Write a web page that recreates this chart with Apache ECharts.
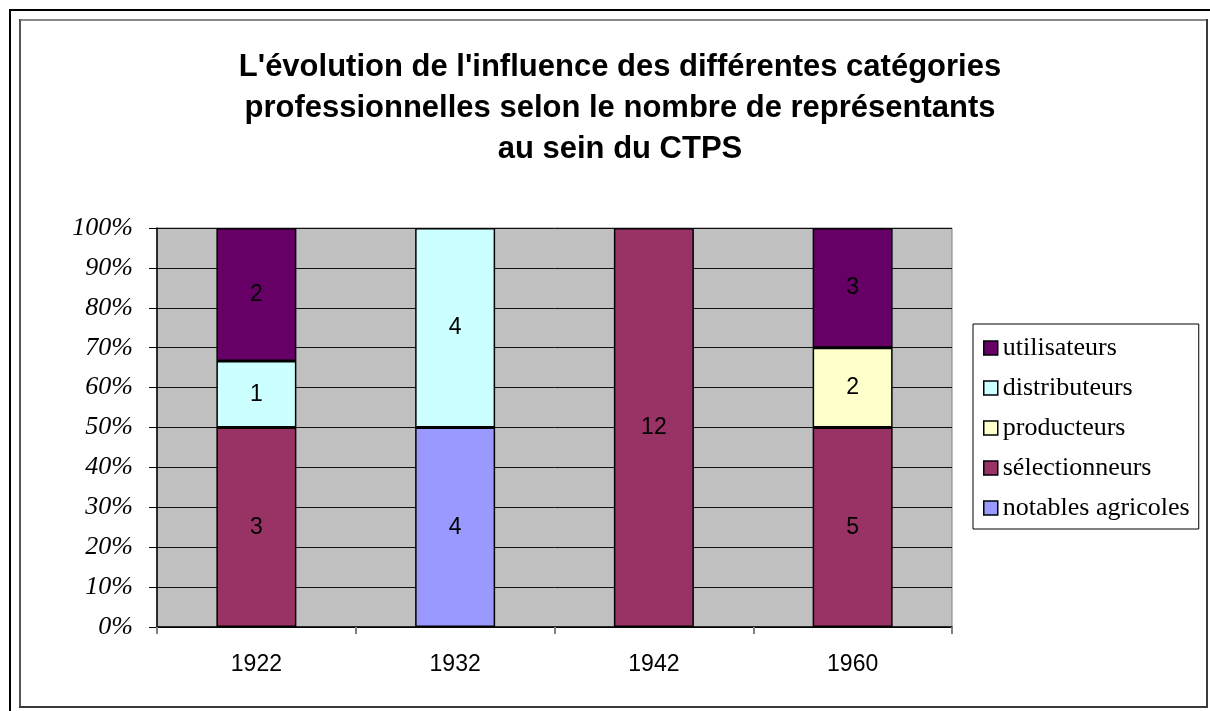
<!DOCTYPE html>
<html>
<head>
<meta charset="utf-8">
<script src="https://cdn.jsdelivr.net/npm/echarts@6/dist/echarts.min.js"></script>
<style>
  html, body { margin: 0; padding: 0; background: #fff; }
  #main { width: 1210px; height: 711px; }
</style>
</head>
<body>
<div id="main"></div>
<script>
// years on the x axis
var years = ['1922', '1932', '1942', '1960'];
// number of representatives per category (null = none)
var notables = [null, 4, null, null];
var selectionneurs = [3, null, 12, 5];
var producteurs = [null, null, null, 2];
var distributeurs = [1, 4, null, null];
var utilisateurs = [2, null, null, 3];
var yTicks = [0, 10, 20, 30, 40, 50, 60, 70, 80, 90, 100];

var counts = [notables, selectionneurs, producteurs, distributeurs, utilisateurs];
var names = ['notables agricoles', 'sélectionneurs', 'producteurs', 'distributeurs', 'utilisateurs'];
var colors = ['#9999FF', '#993366', '#FFFFCC', '#CCFFFF', '#660066'];

// totals per year, for the 100% stack
var totals = years.map(function (y, i) {
  var t = 0;
  counts.forEach(function (c) { t += c[i] || 0; });
  return t;
});

var chart = echarts.init(document.getElementById('main'));

var series = counts.map(function (c, k) {
  return {
    name: names[k],
    type: 'bar',
    stack: 'all',
    barWidth: 80,
    data: c.map(function (v, i) { return v == null ? '-' : v / totals[i] * 100; }),
    itemStyle: { color: colors[k], borderColor: '#000', borderWidth: 1.5 },
    label: {
      show: true,
      position: 'inside',
      color: '#000',
      fontFamily: 'Liberation Sans, Arial',
      fontSize: 23,
      formatter: function (p) { return c[p.dataIndex]; }
    }
  };
});

chart.setOption({
  animation: false,
  backgroundColor: '#fff',
  title: {
    text: "L'évolution de l'influence des différentes catégories\nprofessionnelles selon le nombre de représentants\nau sein du CTPS",
    left: 615,
    top: 42,
    textAlign: 'center',
    textStyle: {
      fontFamily: 'Liberation Sans, Arial',
      fontWeight: 'bold',
      fontSize: 31,
      lineHeight: 41,
      color: '#000'
    }
  },
  legend: {
    orient: 'vertical',
    left: 973,
    top: 324,
    data: ['utilisateurs', 'distributeurs', 'producteurs', 'sélectionneurs', 'notables agricoles'],
    itemWidth: 14,
    itemHeight: 14,
    itemGap: 14,
    padding: [11, 9, 8, 10],
    borderColor: '#000',
    borderWidth: 1,
    icon: 'rect',
    itemStyle: { borderColor: '#000', borderWidth: 1.5 },
    textStyle: {
      fontFamily: 'Liberation Serif, Times New Roman',
      fontSize: 26,
      lineHeight: 26,
      color: '#000'
    }
  },
  grid: {
    left: 157,
    top: 228,
    width: 795,
    height: 399,
    show: true,
    backgroundColor: '#C0C0C0',
    borderColor: '#808080',
    borderWidth: 1
  },
  xAxis: {
    type: 'category',
    data: years,
    axisLine: { lineStyle: { color: '#000', width: 1.5 } },
    axisTick: { show: true, length: 7, lineStyle: { color: '#808080', width: 2 } },
    axisLabel: {
      margin: 26,
      color: '#000',
      fontFamily: 'Liberation Sans, Arial',
      fontSize: 23
    }
  },
  yAxis: {
    type: 'value',
    min: yTicks[0],
    max: yTicks[yTicks.length - 1],
    interval: 10,
    axisLine: { show: true, lineStyle: { color: '#000', width: 1.5 } },
    axisTick: { show: true, length: 8, lineStyle: { color: '#000' } },
    splitLine: { show: true, lineStyle: { color: '#111', width: 1 } },
    axisLabel: {
      margin: 24,
      color: '#000',
      fontFamily: 'Liberation Serif, Times New Roman',
      fontStyle: 'italic',
      fontSize: 26,
      formatter: '{value}%'
    }
  },
  graphic: [
    // outer page frame
    { type: 'rect', shape: { x: 10, y: 10, width: 1300, height: 800 }, style: { fill: null, stroke: '#000', lineWidth: 2 }, silent: true },
    // chart frame, dark right/bottom
    { type: 'rect', shape: { x: 20, y: 20, width: 1187, height: 687 }, style: { fill: null, stroke: '#3a3a3a', lineWidth: 2 }, silent: true },
    // lighter top/left edges
    { type: 'line', shape: { x1: 20, y1: 20, x2: 1206, y2: 20 }, style: { stroke: '#888', lineWidth: 2 }, silent: true },
    { type: 'line', shape: { x1: 20, y1: 20, x2: 20, y2: 706 }, style: { stroke: '#555', lineWidth: 2 }, silent: true }
  ],
  series: series
});
</script>
</body>
</html>
